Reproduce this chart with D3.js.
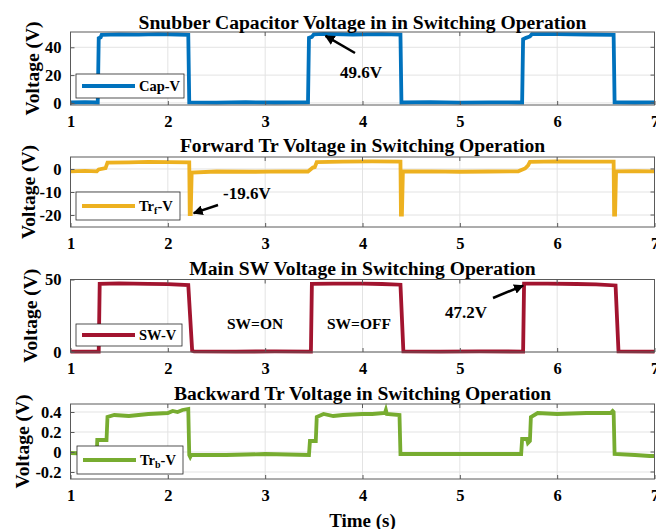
<!DOCTYPE html>
<html>
<head>
<meta charset="utf-8">
<script src="https://cdn.jsdelivr.net/npm/d3@7"></script>
<style>
  body { margin: 0; background: #fff; }
  svg text { font-family: "Liberation Serif", "Times New Roman", serif; font-weight: bold; fill: #000; }
</style>
</head>
<body>
<svg id="chart" width="656" height="529"></svg>
<script>
// Time axis ticks (s)
const timeTicks = [1, 2, 3, 4, 5, 6, 7];

// Snubber capacitor voltage [t, V]
const capV = [
  [1.00, 0.3], [1.15, 0.5], [1.28, 0.3], [1.29, 46.5], [1.31, 47.2], [1.32, 48.9], [1.50, 49.3],
  [1.70, 49.1], [1.90, 49.4], [2.10, 49.2], [2.21, 49.0], [2.22, 0.4], [2.50, 0.2],
  [2.80, 0.5], [3.10, 0.3], [3.44, 0.4], [3.45, 46.8], [3.48, 47.5], [3.50, 49.3],
  [3.60, 49.6], [3.90, 49.2], [4.20, 49.4], [4.39, 49.1], [4.40, 0.3], [4.70, 0.5],
  [5.00, 0.2], [5.30, 0.4], [5.64, 0.3], [5.65, 45.8], [5.68, 46.8], [5.72, 47.8],
  [5.74, 49.4], [6.00, 49.5], [6.30, 49.2], [6.58, 49.0], [6.59, 0.4], [6.80, 0.3], [7.00, 0.4]
];

// Forward transistor voltage [t, V]
const trfV = [
  [1.00, -1.0], [1.15, -0.8], [1.27, -1.0], [1.29, -0.2], [1.36, 0.4], [1.38, 2.8],
  [1.60, 2.9], [1.80, 3.1], [2.00, 3.0], [2.22, 2.9], [2.225, -19.6], [2.235, -19.6],
  [2.245, -1.6], [2.50, -1.1], [2.90, -1.2], [3.20, -1.0], [3.44, -1.1], [3.49, 0.6],
  [3.51, 0.8], [3.53, 3.0], [3.80, 3.2], [4.10, 3.3], [4.39, 3.2], [4.395, -19.8],
  [4.405, -19.8], [4.415, -1.1], [4.70, -1.0], [5.00, -1.2], [5.30, -1.1], [5.60, -1.0],
  [5.67, 0.2], [5.70, 1.5], [5.72, 3.1], [6.00, 3.3], [6.30, 3.2], [6.58, 3.2],
  [6.585, -19.8], [6.595, -19.8], [6.605, -1.0], [6.80, -0.9], [7.00, -1.0]
];

// Main switch voltage [t, V]
const swV = [
  [1.00, 0.3], [1.29, 0.3], [1.30, 47.0], [1.50, 47.3], [1.80, 47.0], [2.00, 46.8],
  [2.21, 46.2], [2.25, 0.9], [2.27, 0.4], [2.70, 0.3], [3.10, 0.4], [3.47, 0.3],
  [3.48, 47.0], [3.70, 47.2], [4.00, 47.1], [4.20, 46.9], [4.39, 46.4], [4.42, 0.4],
  [4.80, 0.3], [5.20, 0.4], [5.65, 0.3], [5.66, 47.2], [5.90, 47.2], [6.20, 46.9],
  [6.40, 46.7], [6.60, 45.9], [6.63, 0.4], [7.00, 0.3]
];

// Backward transistor voltage [t, V]
const trbV = [
  [1.00, -0.01], [1.27, -0.02], [1.275, 0.12], [1.37, 0.12], [1.38, 0.35], [1.45, 0.37],
  [1.60, 0.36], [1.80, 0.38], [2.00, 0.39], [2.05, 0.41], [2.10, 0.40], [2.15, 0.42],
  [2.21, 0.43], [2.22, -0.03], [2.23, -0.05], [2.24, -0.03], [2.60, -0.03], [3.00, -0.02],
  [3.45, -0.03], [3.46, 0.11], [3.52, 0.11], [3.53, 0.35], [3.60, 0.38], [3.70, 0.36],
  [3.80, 0.37], [4.00, 0.38], [4.10, 0.38], [4.23, 0.39], [4.24, 0.42], [4.25, 0.38],
  [4.38, 0.37], [4.39, -0.02], [4.80, -0.02], [5.20, -0.02], [5.63, -0.02], [5.64, 0.13],
  [5.69, 0.13], [5.70, 0.09], [5.72, 0.11], [5.73, 0.35], [5.80, 0.39], [6.00, 0.38],
  [6.30, 0.39], [6.55, 0.39], [6.57, 0.41], [6.58, 0.40], [6.59, -0.02], [6.80, -0.03],
  [6.95, -0.04], [7.00, -0.04]
];

// Y ticks for each panel
const capTicks = [0, 20, 40];
const trfTicks = [-20, -10, 0];
const swTicks = [0, 50];
const trbTicks = [-0.2, 0, 0.2, 0.4];
const trbTickLabels = ["-0.2", "0", "0.2", "0.4"];

const svg = d3.select("#chart");
const left = 70.5, right = 654.5;
const x = d3.scaleLinear().domain([1, 7]).range([left, right]);

const panels = [
  { title: "Snubber Capacitor Voltage in in Switching Operation", data: capV, color: "#0072BD",
    top: 32, bottom: 105, domain: [-1.5, 51], ticks: capTicks, labels: capTicks.map(String),
    titleY: 22, ylabelX: 32, legend: { name: "Cap-V", x: 76, y: 74, w: 108, h: 24 } },
  { title: "Forward Tr Voltage in Switching Operation", data: trfV, color: "#EDB120",
    top: 157, bottom: 227, domain: [-25.2, 5.2], ticks: trfTicks, labels: trfTicks.map(String),
    titleY: 145, ylabelX: 28, legend: { name: "Tr", sub: "f", x: 76, y: 192, w: 104, h: 28 } },
  { title: "Main SW Voltage in Switching Operation", data: swV, color: "#A2142F",
    top: 279.5, bottom: 352, domain: [0, 50], ticks: swTicks, labels: swTicks.map(String),
    titleY: 268, ylabelX: 30, legend: { name: "SW-V", x: 76, y: 324, w: 106, h: 22 } },
  { title: "Backward Tr Voltage in Switching Operation", data: trbV, color: "#77AC30",
    top: 404, bottom: 479, domain: [-0.27, 0.48], ticks: trbTicks, labels: trbTickLabels,
    titleY: 393, ylabelX: 22, legend: { name: "Tr", sub: "b", x: 77, y: 446, w: 106, h: 28 } }
];

panels.forEach(p => {
  const y = d3.scaleLinear().domain(p.domain).range([p.bottom, p.top]);
  const g = svg.append("g");
  p.y = y;

  // grid
  g.append("g").selectAll("line").data(timeTicks.slice(1, -1)).join("line")
    .attr("x1", d => x(d)).attr("x2", d => x(d)).attr("y1", p.top).attr("y2", p.bottom)
    .attr("stroke", "#e3e3e3").attr("stroke-width", 1);
  g.append("g").selectAll("line").data(p.ticks).join("line")
    .attr("x1", left).attr("x2", right).attr("y1", d => y(d)).attr("y2", d => y(d))
    .attr("stroke", "#e3e3e3").attr("stroke-width", 1);

  // data line
  const line = d3.line().x(d => x(d[0])).y(d => y(d[1]));
  g.append("path").datum(p.data).attr("d", line)
    .attr("fill", "none").attr("stroke", p.color).attr("stroke-width", 3.8)
    .attr("stroke-linejoin", "miter");

  // frame
  g.append("rect").attr("x", left).attr("y", p.top).attr("width", right - left).attr("height", p.bottom - p.top)
    .attr("fill", "none").attr("stroke", "#5a5a5a").attr("stroke-width", 1);

  // axes
  const xAxis = d3.axisBottom(x).tickValues(timeTicks).tickFormat(d3.format("d")).tickSizeInner(-4).tickSizeOuter(0).tickPadding(10);
  const xg = g.append("g").attr("transform", `translate(0,${p.bottom})`).call(xAxis);
  xg.select(".domain").remove();
  xg.selectAll("line").attr("stroke", "#5a5a5a");
  xg.selectAll("text").attr("font-size", 16.5).attr("font-family", "Liberation Serif").attr("font-weight", "bold").attr("fill", "#000");

  const yAxis = d3.axisLeft(y).tickValues(p.ticks).tickFormat((d, i) => p.labels[i]).tickSizeInner(-4).tickSizeOuter(0).tickPadding(9);
  const yg = g.append("g").attr("transform", `translate(${left},0)`).call(yAxis);
  yg.select(".domain").remove();
  yg.selectAll("line").attr("stroke", "#5a5a5a");
  yg.selectAll("text").attr("font-size", 16.5).attr("font-family", "Liberation Serif").attr("font-weight", "bold").attr("fill", "#000");
  // right side and top tick marks
  g.append("g").selectAll("line").data(p.ticks).join("line")
    .attr("x1", right - 4).attr("x2", right).attr("y1", d => y(d)).attr("y2", d => y(d))
    .attr("stroke", "#5a5a5a");
  g.append("g").selectAll("line").data(timeTicks).join("line")
    .attr("x1", d => x(d)).attr("x2", d => x(d)).attr("y1", p.top).attr("y2", p.top + 4)
    .attr("stroke", "#5a5a5a");

  // title
  g.append("text").attr("x", (left + right) / 2).attr("y", p.titleY).attr("text-anchor", "middle")
    .attr("dominant-baseline", "central").attr("font-size", 19.6).text(p.title);

  // y label
  g.append("text").attr("transform", `translate(${p.ylabelX},${(p.top + p.bottom) / 2}) rotate(-90)`)
    .attr("text-anchor", "middle").attr("dominant-baseline", "central").attr("font-size", 19.5).text("Voltage (V)");

  // legend
  const L = p.legend;
  g.append("rect").attr("x", L.x).attr("y", L.y).attr("width", L.w).attr("height", L.h)
    .attr("fill", "#fff").attr("stroke", "#262626").attr("stroke-width", 0.8);
  const ly = L.y + L.h / 2;
  g.append("line").attr("x1", L.x + 6).attr("x2", L.x + 59).attr("y1", ly).attr("y2", ly)
    .attr("stroke", p.color).attr("stroke-width", 3.8);
  const lt = g.append("text").attr("x", L.x + 63).attr("y", ly).attr("dominant-baseline", "central").attr("font-size", 14.5);
  if (L.sub) {
    lt.append("tspan").text(L.name);
    lt.append("tspan").attr("font-size", 10).attr("dy", 4).text(L.sub);
    lt.append("tspan").attr("dy", -4).text("-V");
  } else {
    lt.text(L.name);
  }
});

// x axis title
svg.append("text").attr("x", (left + right) / 2).attr("y", 520).attr("text-anchor", "middle")
  .attr("dominant-baseline", "central").attr("font-size", 19).text("Time (s)");

// annotations
svg.append("defs").append("marker").attr("id", "arrow").attr("viewBox", "0 0 10 10")
  .attr("refX", 9).attr("refY", 5).attr("markerWidth", 4).attr("markerHeight", 4)
  .attr("markerUnits", "strokeWidth").attr("orient", "auto")
  .append("path").attr("d", "M0,0 L10,5 L0,10 z").attr("fill", "#000");

function arrow(x1, y1, x2, y2) {
  svg.append("line").attr("x1", x1).attr("y1", y1).attr("x2", x2).attr("y2", y2)
    .attr("stroke", "#000").attr("stroke-width", 2.5).attr("marker-end", "url(#arrow)");
}
function note(tx, ty, s, size) {
  svg.append("text").attr("x", tx).attr("y", ty).attr("dominant-baseline", "central")
    .attr("font-size", size || 17).text(s);
}

const p1 = panels[0], p2 = panels[1], p3 = panels[2];
// 49.6 V peak on capacitor
arrow(355, 53, x(3.62), p1.y(49.6) + 2);
note(340, 72, "49.6V");
// -19.6 V spike on forward transistor
arrow(218, 205, x(2.245) + 2, p2.y(-19.6) - 1);
note(223, 193, "-19.6V");
// 47.2 V on main switch
arrow(493, 298, x(5.66) - 1, p3.y(47.2) + 2);
note(445, 312, "47.2V");
note(227, 323, "SW=ON", 15.5);
note(327, 323, "SW=OFF", 15.5);
</script>
</body>
</html>
